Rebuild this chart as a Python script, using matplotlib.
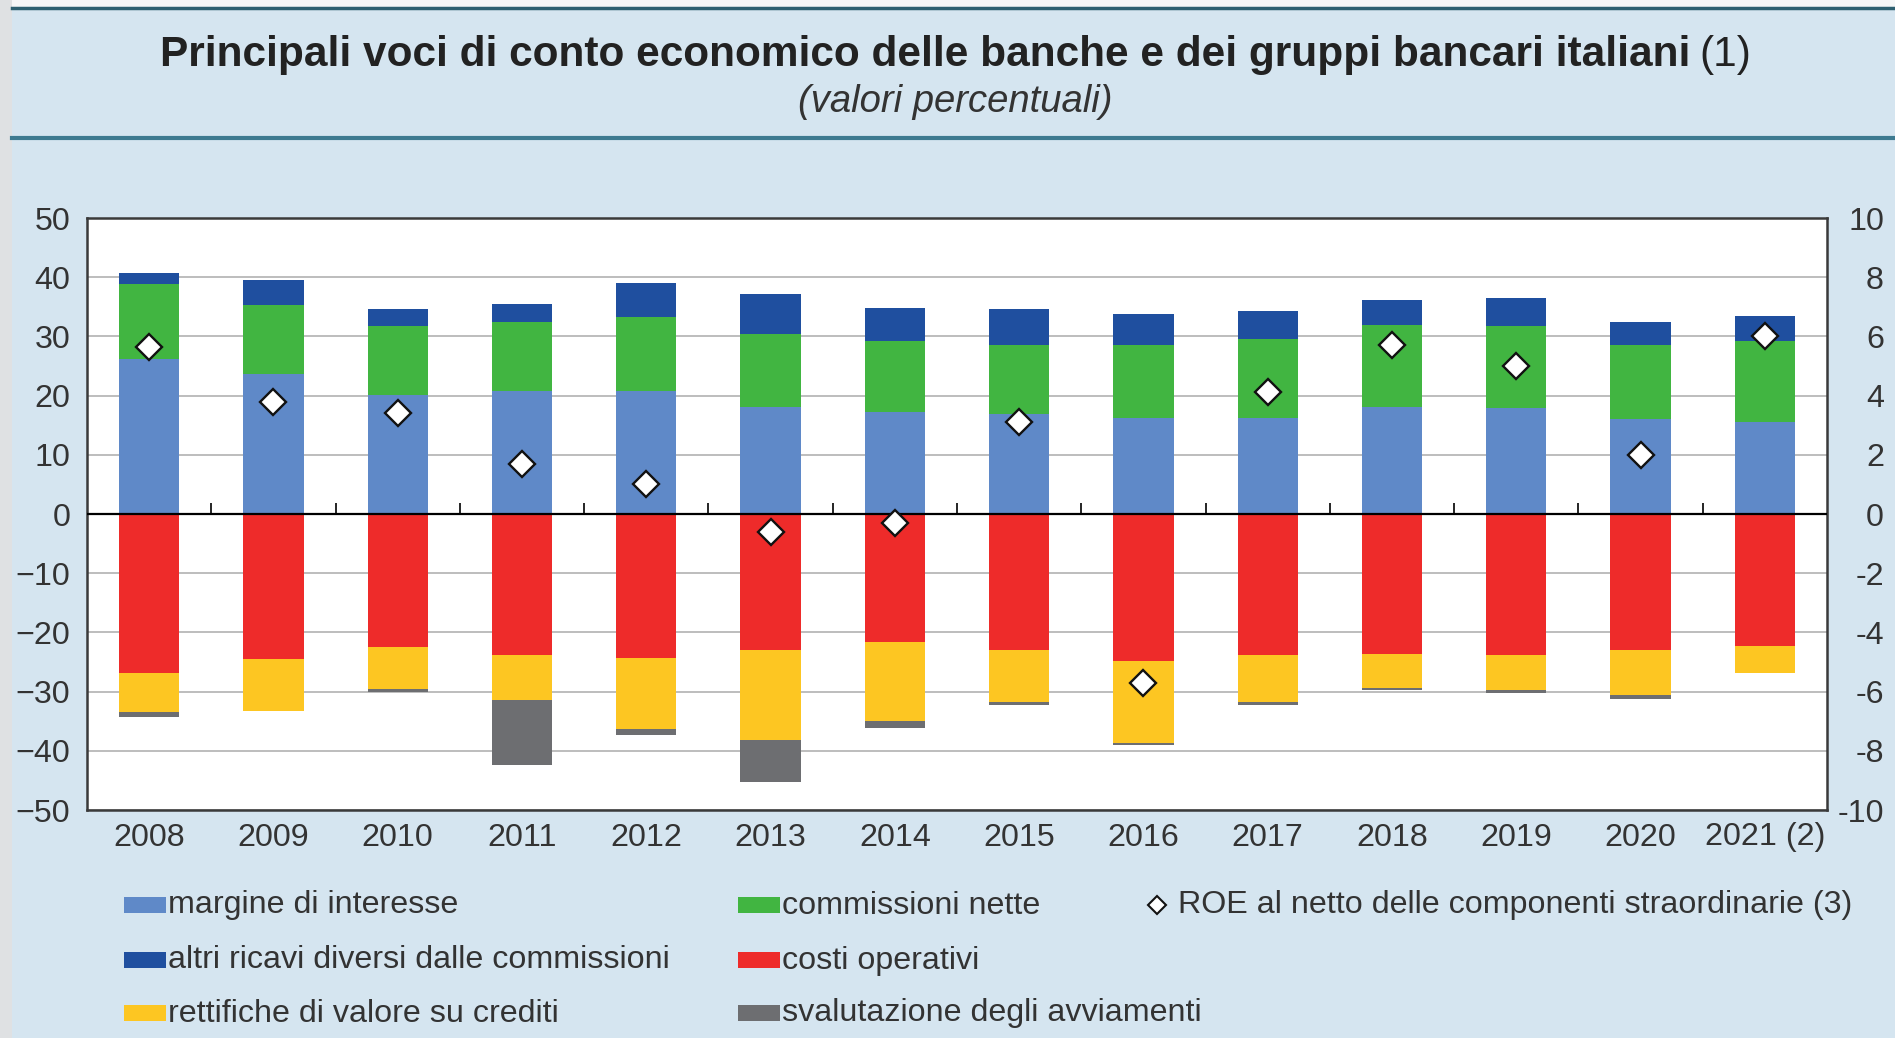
import numpy as np
import matplotlib.pyplot as plt
from matplotlib.patches import Rectangle
from matplotlib.lines import Line2D

plt.rcParams['font.family'] = ['Liberation Sans', 'DejaVu Sans']

# dati (valori percentuali)
years = ['2008', '2009', '2010', '2011', '2012', '2013', '2014',
         '2015', '2016', '2017', '2018', '2019', '2020', '2021 (2)']
margine = [26.2, 23.6, 20.1, 20.7, 20.8, 18.1, 17.2, 16.9, 16.2, 16.3, 18.0, 17.9, 16.0, 15.5]
commissioni = [12.6, 11.7, 11.7, 11.7, 12.4, 12.3, 12.0, 11.7, 12.3, 13.3, 14.0, 13.8, 12.5, 13.8]
altri_ricavi = [1.9, 4.2, 2.8, 3.0, 5.8, 6.8, 5.6, 6.1, 5.2, 4.7, 4.1, 4.8, 3.9, 4.1]
costi = [-26.9, -24.5, -22.5, -23.8, -24.3, -22.9, -21.7, -22.9, -24.8, -23.8, -23.6, -23.8, -22.9, -22.3]
rettifiche = [-6.5, -8.8, -7.1, -7.6, -12.1, -15.3, -13.3, -8.9, -13.9, -8.0, -5.8, -5.9, -7.6, -4.6]
svalutazione = [-0.9, 0.0, -0.4, -11.0, -0.9, -7.1, -1.1, -0.5, -0.3, -0.4, -0.3, -0.5, -0.8, 0.0]
roe = [5.63, 3.8, 3.4, 1.7, 1.0, -0.6, -0.32, 3.1, -5.7, 4.12, 5.72, 5.01, 2.0, 6.0]

labels = ['margine di interesse', 'commissioni nette',
          'altri ricavi diversi dalle commissioni', 'costi operativi',
          'rettifiche di valore su crediti', 'svalutazione degli avviamenti']
roe_label = 'ROE al netto delle componenti straordinarie (3)'

C_MARG = '#5f89c8'
C_COMM = '#41b541'
C_ALTRI = '#1f4f9f'
C_COSTI = '#ee2b2a'
C_RETT = '#fdc622'
C_SVAL = '#6d6e71'
BG = '#d5e5f0'
TXT = '#333333'
FS = 23.2

W, H = 1895, 1038
fig = plt.figure(figsize=(W / 100, H / 100), dpi=100)
fig.patch.set_facecolor(BG)


def fx(px):
    return px / W


def fy(py):
    return 1 - py / H


# cornice
fig.add_artist(Rectangle((0, fy(7)), 1, 1 - fy(7), transform=fig.transFigure,
                         facecolor='#f4f6f7', edgecolor='none'))
fig.add_artist(Rectangle((0, 0), fx(12), 1, transform=fig.transFigure,
                         facecolor='#dfe1e3', edgecolor='none'))
fig.add_artist(Line2D([fx(12), 1], [fy(8), fy(8)], transform=fig.transFigure,
                      color='#2c5f70', lw=2.5))
fig.add_artist(Line2D([fx(12), 1], [fy(138), fy(138)], transform=fig.transFigure,
                      color='#3d7a90', lw=3))

ax = fig.add_axes([fx(87), fy(810), fx(1827) - fx(87), fy(218) - fy(810)])
ax.set_facecolor('white')

x = np.arange(len(years))
bw = 0.485
marg = np.array(margine)
comm = np.array(commissioni)
cost = np.array(costi)
rett = np.array(rettifiche)

ax.bar(x, margine, bw, color=C_MARG, lw=0, zorder=2)
ax.bar(x, commissioni, bw, bottom=marg, color=C_COMM, lw=0, zorder=2)
ax.bar(x, altri_ricavi, bw, bottom=marg + comm, color=C_ALTRI, lw=0, zorder=2)
ax.bar(x, costi, bw, color=C_COSTI, lw=0, zorder=2)
ax.bar(x, rettifiche, bw, bottom=cost, color=C_RETT, lw=0, zorder=2)
ax.bar(x, svalutazione, bw, bottom=cost + rett, color=C_SVAL, lw=0, zorder=2)

ax.axhline(0, color='black', lw=1.6, zorder=3)
ax.vlines(x[:-1] + 0.5, 0, 1.8, color='black', lw=1.2, zorder=3)

ax.set_xlim(-0.5, len(years) - 0.5)
ax.set_ylim(-50, 50)
ax.set_yticks(range(-50, 51, 10))
ax.yaxis.grid(True, color='#b8b8b8', lw=1.3)
ax.set_axisbelow(True)
ax.set_xticks(x)
ax.set_xticklabels(years)
ax.tick_params(axis='y', length=0, pad=12, labelsize=FS, labelcolor=TXT)
ax.tick_params(axis='x', length=0, pad=9, labelsize=FS, labelcolor=TXT)
for s in ax.spines.values():
    s.set_color('#3a3a3a')
    s.set_linewidth(1.8)

ax2 = ax.twinx()
ax2.plot(x, roe, 'D', mfc='white', mec='#111111', ms=13.5, mew=1.7, zorder=5)
ax2.set_ylim(-10, 10)
ax2.set_yticks(range(-10, 11, 2))
ax2.set_yticklabels([str(v) for v in range(-10, 11, 2)], ha='right')
ax2.tick_params(axis='y', length=0, pad=41, labelsize=FS, labelcolor=TXT)
for s in ax2.spines.values():
    s.set_visible(False)

# titolo
t1 = fig.text(0.5, fy(66), 'Principali voci di conto economico delle banche e dei gruppi bancari italiani',
              weight='bold', size=30.5, color='#222222', ha='left', va='baseline')
t2 = fig.text(0.5, fy(66), '(1)', size=30.5, color='#222222', ha='left', va='baseline')
fig.text(fx(955), fy(112), '(valori percentuali)', style='italic', size=27.5,
         color=TXT, ha='center', va='baseline')
fig.canvas.draw()
r = fig.canvas.get_renderer()
wb = t1.get_window_extent(r).width
wr = t2.get_window_extent(r).width
gap = 9
x0 = 956 - (wb + gap + wr) / 2
t1.set_x(fx(x0))
t2.set_x(fx(x0 + wb + gap))

# legenda
rows = [905, 960, 1013]
legend_items = [
    (124, rows[0], C_MARG, labels[0]),
    (124, rows[1], C_ALTRI, labels[2]),
    (124, rows[2], C_RETT, labels[4]),
    (738, rows[0], C_COMM, labels[1]),
    (738, rows[1], C_COSTI, labels[3]),
    (738, rows[2], C_SVAL, labels[5]),
]
for px, py, col, lab in legend_items:
    fig.add_artist(Rectangle((fx(px), fy(py + 8)), fx(42), 16 / H,
                             transform=fig.transFigure, facecolor=col, edgecolor='none'))
    fig.text(fx(px + 44), fy(py + 8.5), lab, size=FS, color=TXT, ha='left', va='baseline')

fig.add_artist(Line2D([fx(1157)], [fy(rows[0])], transform=fig.transFigure, marker='D',
                      mfc='white', mec='#111111', ms=9, mew=1.5, ls='none'))
fig.text(fx(1178), fy(rows[0] + 8.5), roe_label, size=FS, color=TXT, ha='left', va='baseline')

fig.savefig('out.png', dpi=100, facecolor=fig.get_facecolor())
